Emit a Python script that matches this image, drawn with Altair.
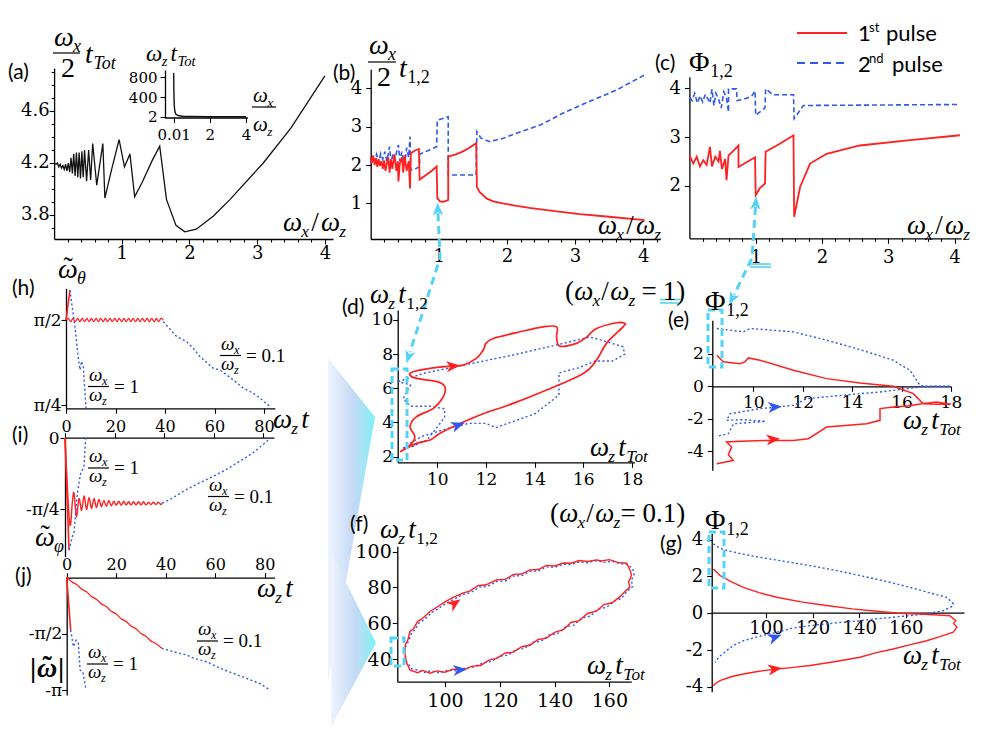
import json
import math
import altair as alt
import pandas as pd

W, H = 965, 720
RED = "#ff2020"
BLUE = "#3158ec"
CYAN = "#55d3f4"
BLACK = "#111111"
SERIF = "Liberation Serif"
TICKFONT = "DejaVu Serif"
SANS = "Lato"

# ---------------- data ----------------
# (a) main curve
a_x = [0.00, 0.03, 0.05, 0.07, 0.09, 0.11, 0.13, 0.15, 0.17, 0.19, 0.21, 0.23, 0.25, 0.27, 0.29,
       0.31, 0.33, 0.35, 0.37, 0.39, 0.41, 0.43, 0.45, 0.48, 0.51, 0.54, 0.57, 0.63, 0.72, 0.75,
       0.85, 0.96, 1.04, 1.12, 1.19, 1.30, 1.45, 1.56, 1.66, 1.80, 1.93, 2.10, 2.35, 2.60, 3.09,
       3.50, 4.00]
a_y = [4.20, 4.19, 4.20, 4.17, 4.19, 4.16, 4.18, 4.15, 4.19, 4.14, 4.20, 4.13, 4.24, 4.12, 4.27,
       4.10, 4.28, 4.09, 4.28, 4.08, 4.29, 4.09, 4.30, 4.06, 4.30, 4.07, 4.35, 4.03, 4.35, 3.93,
       4.15, 4.38, 4.17, 4.27, 3.94, 4.05, 4.22, 4.33, 3.92, 3.72, 3.67, 3.69, 3.79, 3.92, 4.20,
       4.47, 4.87]
# (a) inset
ins_x = [0.01, 0.02, 0.04, 0.07, 0.12, 0.25, 0.5, 1.0, 2.0, 3.0, 4.0]
ins_y = [880, 520, 240, 120, 60, 30, 16, 10, 6, 5, 4]

# (b)
b_red_x = [0.00, 0.02, 0.04, 0.06, 0.08, 0.10, 0.12, 0.14, 0.16, 0.18, 0.20, 0.22, 0.24, 0.26, 0.28,
           0.30, 0.32, 0.35, 0.38, 0.40, 0.41, 0.43, 0.46, 0.48, 0.50, 0.53, 0.56, 0.58, 0.59, 0.65,
           0.71, 0.72, 0.80, 0.90, 0.97, 0.98, 1.02, 1.06, 1.10, 1.14, 1.14, 1.25, 1.35, 1.45, 1.55,
           1.56, 1.60, 1.70, 1.80, 1.94, 2.10, 2.33, 2.70, 3.07, 3.50, 4.02]
b_red_y = [2.20, 2.05, 2.25, 2.00, 2.18, 1.95, 2.15, 1.98, 2.10, 1.90, 2.12, 1.85, 2.05, 2.20, 1.80,
           2.15, 1.90, 2.28, 1.85, 2.10, 1.57, 2.05, 2.20, 1.80, 2.25, 1.85, 2.10, 1.39, 2.30, 2.38,
           2.42, 1.62, 1.72, 1.85, 1.96, 1.13, 1.05, 1.04, 1.06, 1.09, 2.22, 2.28, 2.35, 2.45, 2.57,
           1.43, 1.30, 1.13, 1.05, 1.00, 0.95, 0.88, 0.80, 0.72, 0.65, 0.56]
b_blue_x = [0.00, 0.03, 0.06, 0.09, 0.12, 0.15, 0.18, 0.21, 0.24, 0.28, 0.30, 0.33, 0.36, 0.39, 0.41,
            0.43, 0.46, 0.50, 0.53, 0.56, 0.58, 0.59, 0.66, 0.72, 0.72, 0.85, 0.97, 0.98, 1.14, 1.14,
            1.55, 1.56, 1.62, 1.75, 1.95, 2.14, 2.50, 2.82, 3.20, 3.60, 4.02]
b_blue_y = [2.04, 2.20, 2.10, 2.28, 2.05, 2.30, 2.15, 2.35, 2.10, 2.48, 2.05, 2.30, 2.15, 2.40, 2.52,
            2.10, 2.35, 2.00, 2.45, 2.20, 2.74, 1.87, 1.90, 1.96, 2.28, 2.38, 2.48, 3.17, 3.26, 1.74,
            1.74, 2.87, 2.70, 2.61, 2.70, 2.83, 3.05, 3.35, 3.65, 3.95, 4.35]

# (c)
c_red_x = [0.00, 0.06, 0.11, 0.16, 0.21, 0.26, 0.31, 0.34, 0.39, 0.44, 0.46, 0.49, 0.54, 0.56, 0.58,
           0.59, 0.61, 0.74, 0.74, 0.99, 1.00, 1.06, 1.14, 1.15, 1.37, 1.57, 1.58, 1.67, 1.82, 2.07,
           2.57, 3.33, 4.08]
c_red_y = [2.63, 2.46, 2.60, 2.40, 2.53, 2.43, 2.80, 2.40, 2.60, 2.50, 2.72, 2.35, 2.55, 2.12, 2.45,
           2.63, 2.65, 2.83, 2.39, 2.59, 1.81, 1.95, 2.05, 2.70, 2.87, 3.04, 1.37, 1.98, 2.46, 2.66,
           2.83, 2.94, 3.04]
c_blue_x = [0.00, 0.04, 0.08, 0.12, 0.16, 0.20, 0.24, 0.28, 0.31, 0.34, 0.37, 0.40, 0.44, 0.48, 0.52,
            0.56, 0.59, 0.59, 0.71, 0.72, 0.82, 0.94, 0.99, 1.00, 1.14, 1.15, 1.26, 1.57, 1.58, 1.72,
            4.08]
c_blue_y = [3.82, 3.75, 3.90, 3.70, 3.85, 3.72, 3.88, 3.78, 3.70, 3.98, 3.65, 3.90, 3.78, 3.60, 3.93,
            3.80, 3.52, 3.99, 3.99, 3.75, 3.78, 3.84, 3.95, 3.45, 3.60, 3.99, 3.87, 3.87, 3.38, 3.65,
            3.67]

# (h)
h_r1_t = [0.0, 1.62]
h_r1_v = [1.571, 1.848]
h_b1_t = [1.62, 2.29, 2.96, 3.64, 4.31, 4.98, 5.66, 6.33, 7.00, 8.08]
h_b1_v = [1.848, 1.725, 1.620, 1.500, 1.360, 1.220, 1.110, 1.190, 1.140, 0.755]
h_r2_t = [0.0, 0.9, 1.9, 2.8, 3.7, 4.7, 5.6, 6.5, 7.5, 8.4, 9.4, 10.3, 11.2, 12.2, 13.1, 14.0, 15.0,
          15.9, 16.8, 17.8, 18.7, 19.7, 20.6, 21.5, 22.5, 23.4, 24.3, 25.3, 26.2, 27.1, 28.1, 29.0,
          29.9, 30.9, 31.8, 32.8, 33.7, 34.6, 35.6, 36.5, 37.4, 38.4, 39.3]
h_r2_v = [1.571,
          1.586, 1.556, 1.586, 1.556, 1.586, 1.556, 1.586, 1.556, 1.586, 1.556,
          1.586, 1.556, 1.586, 1.556, 1.586, 1.556, 1.586, 1.556, 1.586, 1.556,
          1.586, 1.556, 1.586, 1.556, 1.586, 1.556, 1.586, 1.556, 1.586, 1.556,
          1.586, 1.556, 1.586, 1.556, 1.586, 1.556, 1.586, 1.556, 1.586, 1.556,
          1.586, 1.571]
h_b2_t = [39.3, 44.7, 48.7, 51.4, 54.1, 59.5, 62.2, 67.6, 71.7, 75.7, 78.4, 82.4]
h_b2_v = [1.556, 1.418, 1.372, 1.310, 1.233, 1.125, 1.110, 1.017, 0.940, 0.894, 0.848, 0.771]

# (i)
i_r1_t = [0.0, 0.8, 1.62]
i_r1_v = [0.0, -0.62, -1.24]
i_b1_t = [1.62, 2.96, 3.64, 4.98, 6.33, 7.67, 8.35]
i_b1_v = [-1.24, -1.09, -1.05, -0.61, -0.39, -0.32, 0.0]
i_r2_t = [0.0, 1.89, 3.00, 3.64, 4.60, 5.66, 6.70, 7.7, 8.7, 9.7, 10.7, 11.7, 12.7, 13.7, 14.7, 15.7,
          16.7, 17.7, 18.7, 19.7, 20.7, 21.7, 22.7, 23.7, 24.7, 25.7, 26.7, 27.7, 28.7, 29.7, 30.7,
          31.7, 32.7, 33.7, 34.7, 35.7, 36.7, 37.7, 38.7, 39.3]
i_r2_v = [0.0, -0.944, -0.70, -0.61, -0.87, -0.67, -0.80, -0.64, -0.79, -0.66, -0.78, -0.67, -0.77,
          -0.68, -0.76, -0.69, -0.755, -0.69, -0.75, -0.70, -0.745, -0.70, -0.745, -0.70, -0.74,
          -0.705, -0.74, -0.705, -0.74, -0.705, -0.74, -0.705, -0.74, -0.71, -0.735, -0.71, -0.735,
          -0.71, -0.735, -0.72]
i_b2_t = [39.3, 43.3, 48.7, 54.1, 59.5, 64.9, 70.3, 75.7, 79.8, 83.1]
i_b2_v = [-0.72, -0.667, -0.575, -0.50, -0.43, -0.354, -0.262, -0.17, -0.077, 0.0]

# (j)
j_r1_t = [0.0, 1.6]
j_r1_v = [0.0, -1.47]
j_b1_t = [1.6, 2.7, 3.8, 4.7, 5.4, 6.5, 7.8]
j_b1_v = [-1.47, -1.93, -1.75, -1.84, -2.58, -2.62, -3.13]
j_r2_t = [0.0, 2.0, 4.0, 6.0, 8.0, 10.0, 12.0, 14.0, 16.0, 18.0, 20.0, 22.0, 24.0, 26.0, 28.0, 30.0,
          32.0, 34.0, 36.0, 38.4]
j_r2_v = [0.0, -0.13, -0.205, -0.335, -0.41, -0.54, -0.615, -0.745, -0.82, -0.95, -1.025, -1.155,
          -1.23, -1.36, -1.435, -1.565, -1.64, -1.77, -1.845, -1.975]
j_b2_t = [38.4, 43.1, 48.5, 51.2, 56.6, 62.0, 67.3, 72.7, 78.0, 82.1]
j_b2_v = [-1.975, -2.07, -2.16, -2.25, -2.35, -2.53, -2.67, -2.81, -2.95, -3.13]

# (d)
d_red_x = [8.47, 9.15, 9.70, 10.10, 10.80, 11.75, 13.12, 14.49, 16.00, 16.54, 16.95, 17.63, 17.70,
           17.36, 16.54, 16.13, 15.72, 15.03, 14.90, 14.90, 14.35, 13.40, 12.30, 12.00, 11.89, 11.60,
           11.07, 10.52, 9.70, 9.00, 8.88, 9.15, 10.00, 10.31, 10.25, 9.84, 9.15, 8.88, 9.08, 8.88, 8.47]
d_red_y = [2.29, 2.78, 2.97, 3.36, 3.85, 4.44, 5.12, 5.90, 6.87, 7.65, 8.63, 9.60, 9.80, 9.84, 9.50,
           9.00, 8.63, 8.47, 9.00, 9.60, 9.60, 9.31, 8.92, 8.63, 8.24, 7.75, 7.36, 7.30, 7.17, 6.97,
           6.78, 6.58, 6.39, 6.09, 5.51, 4.83, 4.34, 3.75, 3.17, 2.68, 2.29]
d_blue_x = [8.40, 9.42, 11.07, 13.12, 15.17, 16.27, 16.80, 17.63, 17.70, 17.20, 16.50, 15.80, 15.00,
            15.00, 14.00, 12.40, 12.00, 11.30, 10.30, 9.40, 8.90, 8.55, 9.00, 9.60, 10.30, 10.30,
            9.70, 8.90, 8.60, 8.90, 8.40]
d_blue_y = [6.39, 6.87, 7.36, 7.95, 8.63, 9.00, 8.80, 8.43, 8.00, 7.60, 7.60, 7.20, 6.90, 5.60, 4.50,
            3.70, 3.95, 3.95, 3.60, 3.20, 2.80, 2.45, 2.60, 3.00, 4.30, 4.80, 4.95, 4.95, 5.40, 6.20,
            6.39]

# (e)
e_red_x = [8.52, 8.79, 9.46, 9.66, 9.80, 10.27, 11.62, 12.97, 14.32, 15.67, 16.48, 16.88, 17.42, 18.00,
           17.42, 16.90, 16.30, 15.67, 15.13, 15.13, 14.59, 12.97, 12.23, 11.62, 10.54, 9.50, 8.92,
           9.12, 8.99, 9.19, 8.52]
e_red_y = [1.90, 1.50, 1.39, 1.50, 1.74, 1.60, 0.98, 0.47, 0.20, 0.00, -0.45, -1.07, -1.10, -1.10,
           -0.96, -1.05, -1.20, -1.27, -1.37, -2.09, -2.30, -2.50, -3.22, -3.32, -3.32, -3.38, -3.42,
           -3.73, -4.20, -4.55, -4.75]
e_blue_x = [8.52, 9.60, 9.87, 11.62, 12.97, 14.32, 15.67, 16.34, 16.75, 17.00, 18.00, 17.00, 15.13,
            14.32, 12.16, 11.62, 10.27, 9.06, 8.92, 9.60, 10.50, 9.20, 8.99, 8.52]
e_blue_y = [3.55, 3.34, 3.55, 3.34, 2.83, 2.25, 1.60, 0.98, 0.06, 0.00, 0.00, 0.00, -0.35, -0.45,
            -0.76, -1.17, -1.37, -1.68, -2.09, -2.05, -2.15, -2.30, -2.91, -3.07]

# (f)
f_red_x = [85.4, 86.0, 87.2, 90.0, 92.0, 94.5, 97.0, 100.0, 103.0, 106.7, 110.0, 113.0, 116.0, 118.9,
           122.0, 125.0, 128.0, 131.0, 134.0, 137.0, 140.0, 143.2, 146.0, 149.0, 152.0, 155.4, 158.0,
           161.0, 163.9, 165.5, 167.5, 167.0, 168.1, 167.5, 166.3, 163.0, 160.0, 157.0, 155.4, 152.0,
           149.0, 146.0, 143.2, 140.0, 137.0, 134.0, 131.0, 128.0, 125.0, 122.0, 118.9, 115.0, 112.0,
           109.0, 106.7, 103.0, 100.0, 97.0, 94.5, 92.0, 90.0, 88.5, 87.2, 86.5, 85.5, 85.4]
f_red_y = [43.3, 38.0, 34.0, 32.5, 33.8, 32.2, 33.5, 32.8, 34.5, 34.1, 36.2, 36.5, 39.5, 40.5, 43.5,
           44.0, 47.0, 47.8, 51.0, 51.8, 55.0, 56.5, 60.5, 61.5, 65.5, 67.0, 70.5, 71.5, 74.9, 77.5,
           80.3, 83.0, 86.8, 89.8, 93.5, 94.0, 95.5, 94.8, 95.4, 94.5, 95.0, 93.5, 93.6, 92.0, 92.3,
           90.0, 89.8, 87.5, 87.3, 84.5, 84.3, 81.5, 81.0, 78.0, 77.0, 74.5, 72.0, 69.0, 66.6, 63.0,
           61.0, 57.0, 55.5, 51.0, 48.0, 43.3]
f_blue_x = [85.0, 85.8, 87.8, 90.5, 92.5, 95.0, 98.0, 101.0, 104.0, 107.5, 110.5, 114.0, 117.0, 120.0,
            123.0, 126.0, 129.0, 132.0, 135.0, 138.0, 141.0, 144.0, 147.0, 150.0, 153.0, 156.0, 159.0,
            162.0, 164.5, 166.5, 168.5, 168.0, 169.0, 168.5, 166.8, 164.0, 161.0, 158.0, 155.0, 152.0,
            149.0, 146.0, 143.0, 140.0, 137.0, 134.0, 131.0, 128.0, 125.0, 122.0, 119.0, 115.5, 112.5,
            109.5, 106.5, 103.5, 100.5, 97.5, 95.0, 92.5, 90.5, 89.0, 87.8, 86.8, 85.8, 85.0]
f_blue_y = [44.0, 39.0, 34.8, 33.8, 32.6, 33.6, 32.4, 34.0, 33.6, 35.2, 35.6, 38.0, 38.8, 41.8, 42.2,
            45.5, 46.0, 49.5, 50.0, 53.5, 54.2, 58.0, 59.0, 63.0, 64.0, 68.0, 69.0, 72.5, 74.0, 78.0,
            80.5, 84.0, 87.0, 90.5, 92.8, 93.2, 94.6, 94.0, 94.9, 93.8, 94.2, 92.8, 92.9, 91.2, 91.5,
            89.2, 89.0, 86.6, 86.4, 83.6, 83.4, 80.6, 80.2, 77.2, 76.2, 73.6, 71.2, 68.2, 65.8, 62.2,
            60.2, 56.4, 54.6, 50.4, 47.4, 44.0]

# (g)
g_red_x = [77.4, 80.3, 85.0, 90.3, 97.0, 104.6, 115.0, 126.0, 137.0, 147.5, 157.0, 166.1, 172.0, 178.9,
           181.5, 180.5, 182.0, 180.4, 175.0, 169.0, 162.0, 154.6, 147.0, 140.3, 130.0, 118.9, 111.0,
           104.6, 97.0, 90.3, 85.0, 80.3, 78.5, 77.4]
g_red_y = [2.41, 2.05, 1.72, 1.41, 1.12, 0.87, 0.62, 0.42, 0.24, 0.11, 0.00, -0.04, -0.08, -0.13,
           -0.40, -0.55, -0.75, -1.03, -1.25, -1.49, -1.70, -1.94, -2.15, -2.39, -2.62, -2.84, -2.95,
           -3.03, -3.15, -3.30, -3.45, -3.66, -3.80, -3.93]
g_blue_x = [77.4, 80.0, 83.1, 90.0, 97.4, 108.0, 118.9, 130.0, 140.3, 151.0, 161.8, 170.0, 177.5, 179.0,
            180.4, 179.5, 176.1, 170.0, 161.8, 150.0, 140.3, 130.0, 118.9, 111.0, 104.6, 97.0, 90.3,
            86.0, 83.1, 80.0, 78.1]
g_blue_y = [3.77, 3.55, 3.41, 3.22, 3.04, 2.82, 2.59, 2.33, 2.05, 1.75, 1.41, 1.12, 0.87, 0.70, 0.51,
            0.35, 0.14, 0.00, -0.13, -0.27, -0.40, -0.52, -0.67, -0.82, -1.03, -1.25, -1.49, -1.75,
            -2.03, -2.35, -2.66]

# direction arrows on the loops (position, heading in degrees)
arr_d_x = [10.66, 10.86]; arr_d_y = [7.30, 3.85]; arr_d_a = [355, 340]
arr_e_x = [10.81, 10.88]; arr_e_y = [-3.26, -1.27]; arr_e_a = [355, 355]
arr_f_x = [103.6, 105.5]; arr_f_y = [71.2, 34.1]; arr_f_a = [325, 355]
arr_g_x = [103.9, 103.9]; arr_g_y = [-3.03, -1.30]; arr_g_a = [352, 340]

# tick values
A_XT = [0.2, 0.4, 0.6, 0.8, 1, 1.2, 1.4, 1.6, 1.8, 2, 2.2, 2.4, 2.6, 2.8, 3, 3.2, 3.4, 3.6, 3.8, 4]
A_YT = [3.7, 3.8, 3.9, 4.0, 4.1, 4.2, 4.3, 4.4, 4.5, 4.6, 4.7, 4.8, 4.9]
B_XT = [0.2, 0.4, 0.6, 0.8, 1, 1.2, 1.4, 1.6, 1.8, 2, 2.2, 2.4, 2.6, 2.8, 3, 3.2, 3.4, 3.6, 3.8, 4, 4.2]
B_YT = [1, 2, 3, 4]
C_YT = [2, 3, 4]
INS_XT = [0.01, 2, 4]
INS_YT = [2, 400, 800]
T_XT = [0, 20, 40, 60, 80]
D_XT = [10, 12, 14, 16, 18]
D_YT = [2, 4, 6, 8, 10]
E_YT = [-4, -2, 0, 2]
F_XT = [100, 120, 140, 160]
F_YT = [40, 60, 80, 100]
G_YT = [-4, -2, 0, 2, 4]


# ---------------- helpers ----------------
def sx(v):
    return v - 8


def sy(v):
    return v - 8


def scales(xd, xp, yd, yp):
    xs = alt.Scale(domain=xd, range=[sx(xp[0]), sx(xp[1])], nice=False, zero=False)
    ys = alt.Scale(domain=yd, range=[sy(yp[0]), sy(yp[1])], nice=False, zero=False)
    return xs, ys


def mk_axis(orient, line_px, values, labeled=None, size=18, labels=True, expr=None, pad=2):
    if orient == "bottom":
        off = sy(line_px) - H
    elif orient == "top":
        off = -sy(line_px)
    else:
        off = -sx(line_px)
    if labeled is None:
        labeled = values
    lj = json.dumps(labeled)
    if expr is None:
        expr = "indexof(%s, datum.value) >= 0 ? '' + datum.value : ''" % lj
    return alt.Axis(orient=orient, offset=off, values=values, labelExpr=expr, title=None,
                    grid=False, labels=labels, labelFontSize=size, labelFlush=False,
                    labelOverlap=False, labelPadding=pad,
                    tickSize={"condition": {"test": "indexof(%s, datum.value) >= 0" % lj, "value": 5},
                              "value": 3})


def series(xv, yv, xs, ys, color, width=1.7, dash=None, interp="linear", xaxis=None, yaxis=None):
    df = pd.DataFrame({"x": xv, "y": yv, "i": list(range(len(xv)))})
    props = dict(color=color, strokeWidth=width, interpolate=interp)
    if dash is not None:
        props["strokeDash"] = dash
    return alt.Chart(df).mark_line(**props).encode(
        x=alt.X("x:Q", scale=xs, axis=xaxis),
        y=alt.Y("y:Q", scale=ys, axis=yaxis),
        order=alt.Order("i:Q"),
    )


ARROW = "M 1 0 L -1 -0.8 L -0.45 0 L -1 0.8 Z"


def heads(xv, yv, cols, angs, xs, ys, size=190):
    df = pd.DataFrame({"x": xv, "y": yv, "c": cols, "a": angs})
    return alt.Chart(df).mark_point(shape=ARROW, filled=True, size=size, opacity=1, strokeWidth=0).encode(
        x=alt.X("x:Q", scale=xs, axis=None), y=alt.Y("y:Q", scale=ys, axis=None),
        color=alt.Color("c:N", scale=None), angle=alt.Angle("a:Q", scale=None))


DOT = [2, 2.5]
DASH = [5, 3]

layers = []

# gradient wedges
tri_df = pd.DataFrame({"px": [sx(328), sx(375), sx(331), sx(376)],
                       "top": [sy(358), sy(417), sy(552), sy(643)],
                       "bot": [sy(683), sy(417), sy(727), sy(643)],
                       "k": ["t1", "t1", "t2", "t2"]})
grad = alt.Gradient(gradient="linear",
                    stops=[alt.GradientStop(color="#eef4fd", offset=0),
                           alt.GradientStop(color="#c4d9f6", offset=0.55),
                           alt.GradientStop(color="#7ef3f4", offset=1)],
                    x1=0, x2=1, y1=0, y2=0)
layers.append(alt.Chart(tri_df).mark_area(color=grad, orient="vertical").encode(
    x=alt.X("px:Q", scale=None, axis=None), y=alt.Y("top:Q", scale=None, axis=None),
    y2="bot:Q", detail="k:N"))

# (a)
xs, ys = scales([0, 4.12], [54.1, 333], [3.615, 4.93], [239, 68.1])
layers.append(series(a_x, a_y, xs, ys, BLACK, 1.3,
                     xaxis=mk_axis("bottom", 239, A_XT, [1, 2, 3, 4], 18, pad=0),
                     yaxis=mk_axis("left", 54.1, A_YT, [3.8, 4.2, 4.6], 18, pad=0)))
# inset
xs, ys = scales([-0.47, 4.08], [165, 247.4], [-20, 940], [118, 70])
layers.append(series(ins_x, ins_y, xs, ys, BLACK, 1.4,
                     xaxis=mk_axis("bottom", 117.5, INS_XT, None, 15, pad=5),
                     yaxis=mk_axis("left", 165, INS_YT, None, 15, pad=3)))
# (b)
xs, ys = scales([0, 4.25], [370.5, 660.3], [0.07, 4.5], [239, 69.2])
layers += [
    series(b_blue_x, b_blue_y, xs, ys, BLUE, 1.6, DASH,
           xaxis=mk_axis("bottom", 239, B_XT, [1, 2, 3, 4], 18, pad=3),
           yaxis=mk_axis("left", 370.7, B_YT, None, 18, pad=4)),
    series(b_red_x, b_red_y, xs, ys, RED, 1.8)]
# (c)
xs, ys = scales([0, 4.1], [689.4, 961.2], [0.93, 4.24], [238.2, 76.7])
layers += [
    series(c_blue_x, c_blue_y, xs, ys, BLUE, 1.6, DASH,
           xaxis=mk_axis("bottom", 238.3, A_XT, [1, 2, 3, 4], 18, pad=5),
           yaxis=mk_axis("left", 689.4, C_YT, None, 18, pad=4)),
    series(c_red_x, c_red_y, xs, ys, RED, 1.8)]
# (h)
xs, ys = scales([0, 84.4], [66, 274.9], [0.755, 1.864], [408.3, 288.3])
layers += [
    series(h_r2_t, h_r2_v, xs, ys, RED, 1.3, interp="cardinal",
           xaxis=mk_axis("bottom", 408.3, T_XT, None, 16, pad=5),
           yaxis=mk_axis("left", 66, [math.pi / 4, math.pi / 2], None, 17, pad=0,
                         expr="datum.value > 1 ? 'π/2' : 'π/4'")),
    series(h_r1_t, h_r1_v, xs, ys, RED, 1.6),
    series(h_b1_t, h_b1_v, xs, ys, BLUE, 1.4, DOT),
    series(h_b2_t, h_b2_v, xs, ys, BLUE, 1.4, DOT)]
# (i)
xs, ys = scales([0, 84.4], [65, 273.9], [-1.313, 0], [556.7, 438])
layers += [
    series(i_r2_t, i_r2_v, xs, ys, RED, 1.4, interp="cardinal",
           xaxis=mk_axis("top", 437.7, T_XT, None, 16, labels=False),
           yaxis=mk_axis("left", 65, [-math.pi / 4, 0], None, 17, pad=1,
                         expr="datum.value < -0.1 ? '-π/4' : '0'")),
    series(i_r1_t, i_r1_v, xs, ys, RED, 1.6),
    series(i_b1_t, i_b1_v, xs, ys, BLUE, 1.4, DOT),
    series(i_b2_t, i_b2_v, xs, ys, BLUE, 1.4, DOT)]
# (j)
xs, ys = scales([0, 84], [66.7, 274.6], [-3.27, 0], [695, 577])
layers += [
    series(j_r2_t, j_r2_v, xs, ys, RED, 1.3, interp="cardinal",
           xaxis=mk_axis("top", 577.7, T_XT, None, 16, pad=0),
           yaxis=mk_axis("left", 66.7, [-math.pi, -math.pi / 2], None, 17, pad=0,
                         expr="datum.value < -2 ? '-π' : '-π/2'")),
    series(j_r1_t, j_r1_v, xs, ys, RED, 1.6),
    series(j_b1_t, j_b1_v, xs, ys, BLUE, 1.4, DOT),
    series(j_b2_t, j_b2_v, xs, ys, BLUE, 1.4, DOT)]
# (d)
xs, ys = scales([8.37, 18.1], [397.6, 634.5], [1.67, 10.59], [462.3, 309.9])
layers += [
    series(d_blue_x, d_blue_y, xs, ys, BLUE, 1.4, DOT,
           xaxis=mk_axis("bottom", 462.3, D_XT, None, 17, pad=4),
           yaxis=mk_axis("left", 397.7, D_YT, None, 17, pad=0)),
    series(d_red_x, d_red_y, xs, ys, RED, 1.7, interp="cardinal"),
    heads(arr_d_x, arr_d_y, [RED, BLUE], arr_d_a, xs, ys)]
# (e)
xs, ys = scales([8.34, 18.0], [712.3, 950.9], [-5.15, 4.05], [470.2, 320.3])
layers += [
    series(e_blue_x, e_blue_y, xs, ys, BLUE, 1.4, DOT,
           xaxis=mk_axis("bottom", 386.3, D_XT, None, 17, pad=3),
           yaxis=mk_axis("left", 712.3, E_YT, None, 17, pad=4)),
    series(e_red_x, e_red_y, xs, ys, RED, 1.5),
    heads(arr_e_x, arr_e_y, [RED, BLUE], arr_e_a, xs, ys)]
# (f)
xs, ys = scales([82.6, 168], [397.3, 631.3], [27.5, 103], [681.7, 546.2])
layers += [
    series(f_blue_x, f_blue_y, xs, ys, BLUE, 1.4, DOT,
           xaxis=mk_axis("bottom", 681.7, F_XT, None, 19, pad=5),
           yaxis=mk_axis("left", 397.3, F_YT, None, 19, pad=1)),
    series(f_red_x, f_red_y, xs, ys, RED, 1.4),
    heads(arr_f_x, arr_f_y, [RED, BLUE], arr_f_a, xs, ys)]
# (g)
xs, ys = scales([76.7, 185], [711.7, 964], [-4.26, 4.34], [691.7, 533.4])
layers += [
    series(g_blue_x, g_blue_y, xs, ys, BLUE, 1.4, DOT,
           xaxis=mk_axis("bottom", 612.7, F_XT, None, 18, pad=2),
           yaxis=mk_axis("left", 711.7, G_YT, None, 18, pad=4)),
    series(g_red_x, g_red_y, xs, ys, RED, 1.4),
    heads(arr_g_x, arr_g_y, [RED, BLUE], arr_g_a, xs, ys)]

# ---------------- annotations ----------------
W_IT = {"ω": 0.68, "x": 0.45, "z": 0.40, "t": 0.30, "T": 0.58, "o": 0.50, "θ": 0.50, "φ": 0.52}
W_UP = {"Φ": 0.76, "=": 0.57, "/": 0.29, "(": 0.34, ")": 0.34, ".": 0.25, ",": 0.25, " ": 0.25,
        "|": 0.21}

rows = {"i": [], "u": [], "ib": [], "ub": []}


def tw(s, size, italic):
    tab = W_IT if italic else W_UP
    return sum(tab.get(c, 0.5) for c in s) * size


def mtext(x0, y0, segs, S):
    x = x0
    for txt, kind in segs:
        if kind == "gap":
            x += txt
            continue
        if kind in ("tilde", "tildeb"):
            grp = "u" if kind == "tilde" else "ub"
            rows[grp].append({"px": sx(x + 0.2 * S), "py": sy(y0 - 0.08 * S), "t": "˜", "sz": S})
            continue
        sub = kind in ("is", "us")
        it = kind.startswith("i")
        size = S * 0.64 if sub else S
        dy = S * 0.22 if sub else 0
        grp = {"is": "i", "us": "u"}.get(kind, kind)
        rows[grp].append({"px": sx(x), "py": sy(y0 + dy), "t": txt, "sz": round(size, 2)})
        x += tw(txt, size, it)
    return x


OMX = [("ω", "i"), ("x", "is")]
OMZ = [("ω", "i"), ("z", "is")]
ZTT = OMZ + [(3, "gap"), ("t", "i"), ("Tot", "is")]
ZT12 = OMZ + [(3, "gap"), ("t", "i"), ("1,2", "us")]
XZ = OMX + [(2, "gap"), ("/", "u"), (2, "gap")] + OMZ
PHI = [("Φ", "u"), ("1,2", "us")]
ZT = OMZ + [(3, "gap"), ("t", "i")]

bars = []  # (x1, x2, y)


def frac_ratio(x0, ybar, eq):
    S = 19
    mtext(x0 + 1, ybar - 6, OMX, S)
    mtext(x0 + 1, ybar + 14, OMZ, S)
    mtext(x0 + 26, ybar + 6, [(eq, "u")], S)
    bars.append((x0, x0 + 21, ybar))


# (a)
mtext(54, 46, OMX, 28)
bars.append((53, 80, 53))
mtext(61, 77, [("2", "u")], 28)
mtext(85, 63, [("t", "i"), ("Tot", "is")], 28)
mtext(283, 231, XZ, 27)
mtext(146, 61, ZTT, 23)
mtext(253, 102, OMX, 21)
bars.append((252, 276, 107))
mtext(253, 131, OMZ, 21)
# (b)
mtext(369, 54, OMX, 28)
bars.append((368, 396, 62))
mtext(377, 86, [("2", "u")], 28)
mtext(399, 77, [("t", "i"), ("1,2", "us")], 28)
mtext(598, 234, XZ, 27)
# (c)
mtext(689, 71, PHI, 28)
mtext(907, 234, XZ, 27)
# (h)(i)(j)
mtext(58, 278, [("", "tilde"), ("ω", "i"), ("θ", "is")], 28)
mtext(273, 428, ZT, 27)
frac_ratio(220, 355.5, "= 0.1")
frac_ratio(88, 386.5, "= 1")
mtext(35, 546, [("", "tilde"), ("ω", "i"), ("φ", "is")], 28)
frac_ratio(88, 468, "= 1")
frac_ratio(208, 496.5, "= 0.1")
mtext(257, 597, ZT, 27)
mtext(30, 677, [("|", "ub"), (1, "gap"), ("", "tildeb"), ("ω", "ib"), (2, "gap"), ("|", "ub")], 28)
frac_ratio(87, 664, "= 1")
frac_ratio(197, 641, "= 0.1")
# (d)
mtext(370, 303, ZT12, 27)
mtext(590, 456, ZTT, 27)
xe = mtext(565, 300, [("(", "u")] + OMX + [(1, "gap"), ("/", "u"), (1, "gap")] + OMZ +
           [(6, "gap"), ("=", "u"), (6, "gap")], 27)
xe2 = mtext(xe, 300, [("1", "u")], 27)
mtext(xe2, 300, [(")", "u")], 27)
# (e)
mtext(705, 310, PHI, 28)
mtext(903, 429, ZTT, 27)
# (f)
mtext(380, 538, ZT12, 27)
mtext(587, 674, ZTT, 27)
mtext(550, 522, [("(", "u")] + OMX + [(1, "gap"), ("/", "u"), (1, "gap")] + OMZ +
      [("= 0.1)", "u")], 27)
# (g)
mtext(705, 529, PHI, 28)
mtext(903, 664, ZTT, 27)

sans_rows = []
for txt, x, y, s in [("(a)", 8, 79, 21), ("(b)", 333, 80, 21), ("(c)", 655, 70, 21),
                     ("(d)", 342, 314, 21), ("(e)", 668, 327, 21), ("(f)", 350, 531, 21),
                     ("(g)", 660, 551, 21), ("(h)", 12, 295, 21), ("(i)", 12, 442, 21),
                     ("(j)", 15, 583, 21),
                     ("1", 858, 41, 22), ("st", 869, 32, 13), ("pulse", 886, 41, 22),
                     ("2", 858, 72, 22), ("nd", 869, 63, 13), ("pulse", 892, 72, 22)]:
    sans_rows.append({"px": sx(x), "py": sy(y), "t": txt, "sz": s})


def text_layer(rs, font, style="normal", weight="normal"):
    df = pd.DataFrame(rs)
    return alt.Chart(df).mark_text(font=font, fontStyle=style, fontWeight=weight, align="left",
                                   baseline="alphabetic", color="black").encode(
        x=alt.X("px:Q", scale=None, axis=None), y=alt.Y("py:Q", scale=None, axis=None),
        text=alt.Text("t:N"), size=alt.Size("sz:Q", scale=None))


# rules: fraction bars, legend red, cyan underlines
rule_rows = [{"x1": sx(a), "x2": sx(b), "y": sy(c), "c": "black", "w": 1.2} for a, b, c in bars]
rule_rows.append({"x1": sx(797), "x2": sx(847), "y": sy(33), "c": RED, "w": 2.2})
for yy in (299.5, 303):
    rule_rows.append({"x1": sx(xe - 3), "x2": sx(xe2 + 4), "y": sy(yy), "c": CYAN, "w": 1.6})
for yy in (264, 267):
    rule_rows.append({"x1": sx(750), "x2": sx(771), "y": sy(yy), "c": CYAN, "w": 1.6})
rule_df = pd.DataFrame(rule_rows)
layers.append(alt.Chart(rule_df).mark_rule().encode(
    x=alt.X("x1:Q", scale=None, axis=None), x2="x2:Q", y=alt.Y("y:Q", scale=None, axis=None),
    color=alt.Color("c:N", scale=None), strokeWidth=alt.StrokeWidth("w:Q", scale=None)))
layers.append(alt.Chart(pd.DataFrame({"x1": [sx(797)], "x2": [sx(847)], "y": [sy(63)]})).mark_rule(
    color=BLUE, strokeWidth=2, strokeDash=[8, 5]).encode(
    x=alt.X("x1:Q", scale=None, axis=None), x2="x2:Q", y=alt.Y("y:Q", scale=None, axis=None)))

# cyan dashed boxes
box_df = pd.DataFrame({"x1": [sx(392), sx(708), sx(391), sx(709)],
                       "x2": [sx(407), sx(722), sx(404), sx(724)],
                       "y1": [sy(369), sy(310), sy(638), sy(532)],
                       "y2": [sy(460), sy(367), sy(666), sy(588)]})
layers.append(alt.Chart(box_df).mark_rect(filled=False, color=CYAN, strokeWidth=3,
                                          strokeDash=[7, 4]).encode(
    x=alt.X("x1:Q", scale=None, axis=None), x2="x2:Q",
    y=alt.Y("y1:Q", scale=None, axis=None), y2="y2:Q"))

# cyan dashed connector arrows
conn = pd.DataFrame({"px": [sx(438), sx(440), sx(410), sx(755.5), sx(752), sx(734)],
                     "py": [sy(213), sy(258), sy(352), sy(207), sy(258), sy(295)],
                     "k": ["a", "a", "a", "b", "b", "b"], "i": [0, 1, 2, 0, 1, 2]})
layers.append(alt.Chart(conn).mark_line(color=CYAN, strokeWidth=3, strokeDash=[8, 5]).encode(
    x=alt.X("px:Q", scale=None, axis=None), y=alt.Y("py:Q", scale=None, axis=None),
    detail="k:N", order=alt.Order("i:Q")))


def ang(x1, y1, x2, y2):
    return math.degrees(math.atan2(y2 - y1, x2 - x1)) % 360


ch = pd.DataFrame({"px": [sx(437.8), sx(408.5), sx(755.8), sx(732)],
                   "py": [sy(209), sy(357), sy(203), sy(299)],
                   "a": [ang(440, 258, 438, 213), ang(440, 258, 410, 352),
                         ang(752, 258, 755.5, 207), ang(752, 258, 734, 295)]})
layers.append(alt.Chart(ch).mark_point(shape=ARROW, filled=True, size=170, color=CYAN, opacity=1,
                                       strokeWidth=0).encode(
    x=alt.X("px:Q", scale=None, axis=None), y=alt.Y("py:Q", scale=None, axis=None),
    angle=alt.Angle("a:Q", scale=None)))

layers.append(text_layer(rows["i"], SERIF, style="italic"))
layers.append(text_layer(rows["u"], SERIF))
layers.append(text_layer(rows["ib"], SERIF, style="italic", weight="bold"))
layers.append(text_layer(rows["ub"], SERIF, weight="bold"))
layers.append(text_layer(sans_rows, SANS))

chart = alt.layer(*layers).resolve_scale(x="independent", y="independent").resolve_axis(
    x="independent", y="independent").properties(
    width=W, height=H, padding=0, autosize=alt.AutoSizeParams(type="none")
).configure_view(stroke=None).configure_axis(
    domainColor="black", tickColor="black", labelColor="black", labelFont=TICKFONT,
    domainWidth=1.3, tickWidth=1.1, grid=False)

chart.save("out.html", embed_options={"renderer": "svg", "actions": False})
